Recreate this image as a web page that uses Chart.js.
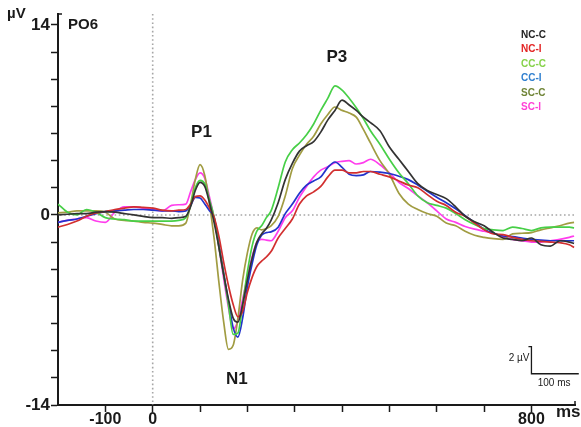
<!DOCTYPE html>
<html>
<head>
<meta charset="utf-8">
<script src="https://cdn.jsdelivr.net/npm/chart.js@4.4.0/dist/chart.umd.min.js"></script>
<style>
  html, body { margin: 0; padding: 0; background: #fff; }
  #wrap { width: 581px; height: 427px; position: relative; }
</style>
</head>
<body>
<div id="wrap"><canvas id="erp"></canvas></div>
<script>
/* ---- Data (ms, µV) ---- */
const times = [
  -200, -180, -160, -140, -120, -100, -80, -60, -40, -20,
  0, 20, 40, 55, 70, 80, 90, 100, 110, 120,
  130, 140, 150, 160, 170, 180, 190, 200, 210, 220,
  230, 240, 250, 265, 280, 295, 310, 325, 340, 355,
  370, 385, 400, 415, 430, 445, 460, 480, 500, 520,
  540, 560, 580, 600, 620, 640, 660, 680, 700, 720,
  740, 760, 780, 800, 820, 840, 860, 880, 890
];

const ncC = [
  0.0, 0.05, 0.1, 0.1, 0.2, 0.25, 0.2, 0.1, 0.0, -0.1,
  -0.2, -0.2, -0.25, -0.2, -0.1, 0.6, 1.8, 2.4, 2.1, 0.9,
  -0.6, -2.4, -4.4, -6.2, -7.6, -7.9, -6.6, -4.8, -3.2, -2.0,
  -1.4, -1.0, -0.4, 0.9, 2.6, 3.8, 4.7, 5.1, 5.4, 6.1,
  7.0, 7.7, 8.45, 8.1, 7.7, 7.2, 6.8, 6.2, 5.0, 4.1,
  3.2, 2.3, 1.8, 1.5, 1.2, 0.6, -0.1, -0.5, -0.8, -1.3,
  -1.7, -1.8, -1.9, -1.7, -2.2, -2.3, -1.9, -2.0, -2.1
];
const ncI = [
  -0.9, -0.7, -0.45, -0.1, 0.15, 0.25, 0.4, 0.5, 0.6, 0.55,
  0.5, 0.35, 0.3, 0.35, 0.4, 0.8, 1.35, 1.4, 1.1, 0.5,
  -0.2, -1.6, -3.5, -5.2, -6.6, -7.5, -7.1, -5.7, -4.6, -3.8,
  -3.4, -3.1, -2.7, -1.7, -1.0, -0.3, 0.8, 1.4, 1.7, 2.1,
  2.8, 3.3, 3.3, 3.1, 3.1, 3.2, 3.2, 3.0, 2.8, 2.5,
  2.2, 2.0, 1.5, 1.0, 0.7, 0.2, -0.1, -0.6, -1.1, -1.4,
  -1.45, -1.65, -1.8, -1.9, -1.95, -2.0, -2.05, -2.2, -2.4
];
const ccC = [
  0.8, 0.2, 0.0, 0.4, 0.2, -0.2, -0.3, -0.35, -0.45, -0.45,
  -0.45, -0.45, -0.45, -0.4, -0.2, 0.7, 2.0, 2.55, 2.3, 1.1,
  -0.2, -2.4, -4.4, -6.6, -8.8, -8.7, -6.6, -4.2, -2.3, -1.2,
  -0.8, -0.2, 0.3, 2.0, 3.9, 4.8, 5.3, 5.9, 6.7, 7.7,
  8.6, 9.5, 9.2, 8.6, 7.9, 7.1, 6.2, 5.2, 4.1, 3.1,
  2.3, 1.4, 0.9, 0.7, 0.5, 0.1, -0.35, -0.7, -1.0, -1.1,
  -1.15, -0.9, -1.0, -1.15, -0.95, -0.9, -0.9, -0.9, -0.95
];
const ccI = [
  -0.55, -0.4, -0.3, -0.1, 0.1, 0.25, 0.3, 0.35, 0.4, 0.4,
  0.35, 0.3, 0.3, 0.25, 0.3, 0.7, 1.3, 1.25, 0.8, 0.3,
  -0.2, -2.2, -4.3, -6.4, -8.3, -9.0, -7.6, -5.3, -3.6, -2.2,
  -1.5, -1.3, -1.25, -0.9, 0.1, 0.8, 1.6, 2.2, 2.5, 2.8,
  3.5, 3.9, 3.5, 3.0, 2.9, 2.95, 3.2, 3.15, 3.05, 2.85,
  2.6, 2.2, 1.75, 1.3, 0.9, 0.45, -0.05, -0.55, -1.05, -1.35,
  -1.55, -1.6, -1.7, -1.8, -1.85, -1.9, -1.9, -1.9, -1.9
];
const scC = [
  0.15, 0.2, 0.3, 0.3, 0.3, 0.2, -0.3, -0.4, -0.45, -0.55,
  -0.6, -0.7, -0.8, -0.8, -0.6, 0.8, 2.6, 3.7, 2.9, 0.8,
  -1.8, -5.0, -7.9, -9.9, -9.6, -7.6, -4.8, -2.8, -1.4, -0.95,
  -1.1, -1.0, -0.8, -0.1, 1.4, 3.4, 4.4, 5.2, 5.8, 6.7,
  7.4, 7.95, 7.7, 7.5, 7.2, 6.3, 5.3, 4.0, 3.0, 1.6,
  0.8, 0.4, 0.1, -0.1, -0.6, -0.8, -1.2, -1.5, -1.65, -1.75,
  -1.8, -1.4, -1.35, -1.3, -1.1, -0.95, -0.8, -0.6, -0.55
];
const scI = [
  -0.55, -0.4, -0.3, -0.2, -0.45, -0.55, 0.2, 0.6, 0.6, 0.5,
  0.4, 0.3, 0.7, 0.75, 0.8, 1.7, 2.6, 3.1, 2.7, 1.3,
  -0.3, -2.4, -4.7, -6.8, -8.4, -7.8, -6.2, -4.6, -3.1, -2.0,
  -1.8, -1.85, -1.9, -1.2, -0.2, 0.3, 1.3, 2.1, 2.8, 3.3,
  3.55, 3.85, 3.95, 4.0, 3.75, 3.85, 4.1, 3.7, 3.1, 2.4,
  1.95, 1.4, 0.9, 0.3, -0.3, -0.55, -0.85, -1.05, -1.2, -1.35,
  -1.6, -1.8, -1.9, -2.0, -2.0, -1.9, -1.8, -1.65, -1.55
];

const seriesNames = ['NC-C', 'NC-I', 'CC-C', 'CC-I', 'SC-C', 'SC-I'];
const seriesValues = [ncC, ncI, ccC, ccI, scC, scI];

const yTicks = [-14, -12, -10, -8, -6, -4, -2, 0, 2, 4, 6, 8, 10, 12, 14];
const yLabeled = [-14, 0, 14];
const xTicks = [-100, 0, 100, 200, 300, 400, 500, 600, 700, 800];
const xLabeled = [-100, 0, 800];

/* ---- Styles ---- */
const lineColors = ['#333333', '#d22f2f', '#47cf47', '#2233cc', '#a19c42', '#ff3ded'];
const legendColors = ['#222222', '#e32424', '#86d24a', '#2f7fcf', '#6f8436', '#ff3fd6'];
const FONT = '"Liberation Sans", Arial, sans-serif';
const INK = '#1a1a1a';

/* ---- Overlay: zero lines, labels, legend, scale bar ---- */
const overlay = {
  id: 'overlay',
  beforeDatasetsDraw(chart) {
    const { ctx, chartArea: a, scales: { x, y } } = chart;
    const y0 = y.getPixelForValue(0);
    const x0 = x.getPixelForValue(0);
    ctx.save();
    ctx.strokeStyle = '#a6a6a6';
    ctx.lineWidth = 1.6;
    ctx.setLineDash([1.6, 2.6]);
    ctx.beginPath();
    ctx.moveTo(a.left + 2, y0);
    ctx.lineTo(a.right, y0);
    ctx.moveTo(x0, a.top);
    ctx.lineTo(x0, a.bottom);
    ctx.stroke();
    ctx.restore();
  },
  afterDraw(chart) {
    const { ctx, chartArea: a, scales: { x, y } } = chart;
    ctx.save();
    ctx.fillStyle = INK;
    ctx.textBaseline = 'middle';

    // axis end hooks
    ctx.strokeStyle = INK;
    ctx.lineWidth = 1.5;
    ctx.beginPath();
    ctx.moveTo(a.left, a.top);
    ctx.lineTo(a.left + 4, a.top);
    ctx.moveTo(a.right, a.bottom);
    ctx.lineTo(a.right, a.bottom - 4);
    ctx.stroke();

    // axis unit labels
    ctx.font = `bold 15px ${FONT}`;
    ctx.textAlign = 'left';
    ctx.fillText('µV', 7, 14);
    ctx.font = `bold 17px ${FONT}`;
    ctx.fillText('ms', 556, 412);

    // electrode name
    ctx.font = `bold 15px ${FONT}`;
    ctx.fillText('PO6', 68, 25);

    // component labels
    ctx.font = `bold 17px ${FONT}`;
    ctx.textAlign = 'center';
    ctx.fillText('P1', x.getPixelForValue(103), y.getPixelForValue(6.1));
    ctx.fillText('P3', x.getPixelForValue(389), y.getPixelForValue(11.6));
    ctx.fillText('N1', x.getPixelForValue(178), y.getPixelForValue(-12.1));

    // legend
    ctx.font = `bold 10px ${FONT}`;
    ctx.textAlign = 'left';
    seriesNames.forEach((name, i) => {
      ctx.fillStyle = legendColors[i];
      ctx.fillText(name, 521, 35 + i * 14.5);
    });

    // scale bar: 2 µV x 100 ms
    const bx = x.getPixelForValue(800);
    const bx2 = x.getPixelForValue(900);
    const byTop = y.getPixelForValue(-9.7);
    const byBot = y.getPixelForValue(-11.7);
    ctx.strokeStyle = INK;
    ctx.lineWidth = 1.3;
    ctx.beginPath();
    ctx.moveTo(bx - 3, byTop);
    ctx.lineTo(bx, byTop);
    ctx.lineTo(bx, byBot);
    ctx.lineTo(bx2, byBot);
    ctx.stroke();
    ctx.fillStyle = INK;
    ctx.font = `10px ${FONT}`;
    ctx.textAlign = 'right';
    ctx.fillText('2 µV', bx - 2, (byTop + byBot) / 2 - 2);
    ctx.textAlign = 'center';
    ctx.fillText('100 ms', (bx + bx2) / 2 - 1, byBot + 9);

    ctx.restore();
  }
};

/* ---- Chart ---- */
const datasets = seriesNames.map((name, i) => ({
  label: name,
  data: times.map((t, k) => ({ x: t, y: seriesValues[i][k] })),
  borderColor: lineColors[i],
  borderWidth: 1.7,
  pointRadius: 0,
  cubicInterpolationMode: 'monotone',
  fill: false,
}));

new Chart(document.getElementById('erp'), {
  type: 'line',
  data: { datasets },
  options: {
    responsive: true,
    maintainAspectRatio: false,
    animation: false,
    layout: { padding: { left: 0, right: 6, top: 14, bottom: 0 } },
    plugins: {
      legend: { display: false },
      tooltip: { enabled: false },
    },
    scales: {
      x: {
        type: 'linear',
        min: -200,
        max: 892,
        afterBuildTicks: (s) => { s.ticks = xTicks.map(v => ({ value: v })); },
        afterFit: (s) => { s.height = 22; },
        grid: { drawOnChartArea: false, tickLength: 7, tickColor: INK, tickWidth: 1.5 },
        border: { color: INK, width: 2 },
        ticks: {
          autoSkip: false,
          maxRotation: 0,
          padding: -2,
          color: INK,
          font: { family: FONT, size: 16, weight: 'bold' },
          callback: (v) => (xLabeled.includes(v) ? String(v) : ''),
        },
      },
      y: {
        min: -14,
        max: 14.8,
        afterBuildTicks: (s) => { s.ticks = yTicks.map(v => ({ value: v })); },
        afterFit: (s) => { s.width = 58; },
        grid: { drawOnChartArea: false, tickLength: 7, tickColor: INK, tickWidth: 1.5 },
        border: { color: INK, width: 2 },
        ticks: {
          autoSkip: false,
          padding: 1,
          color: INK,
          font: { family: FONT, size: 17, weight: 'bold' },
          callback: (v) => (yLabeled.includes(v) ? String(v) : ''),
        },
      },
    },
  },
  plugins: [overlay],
});
</script>
</body>
</html>
